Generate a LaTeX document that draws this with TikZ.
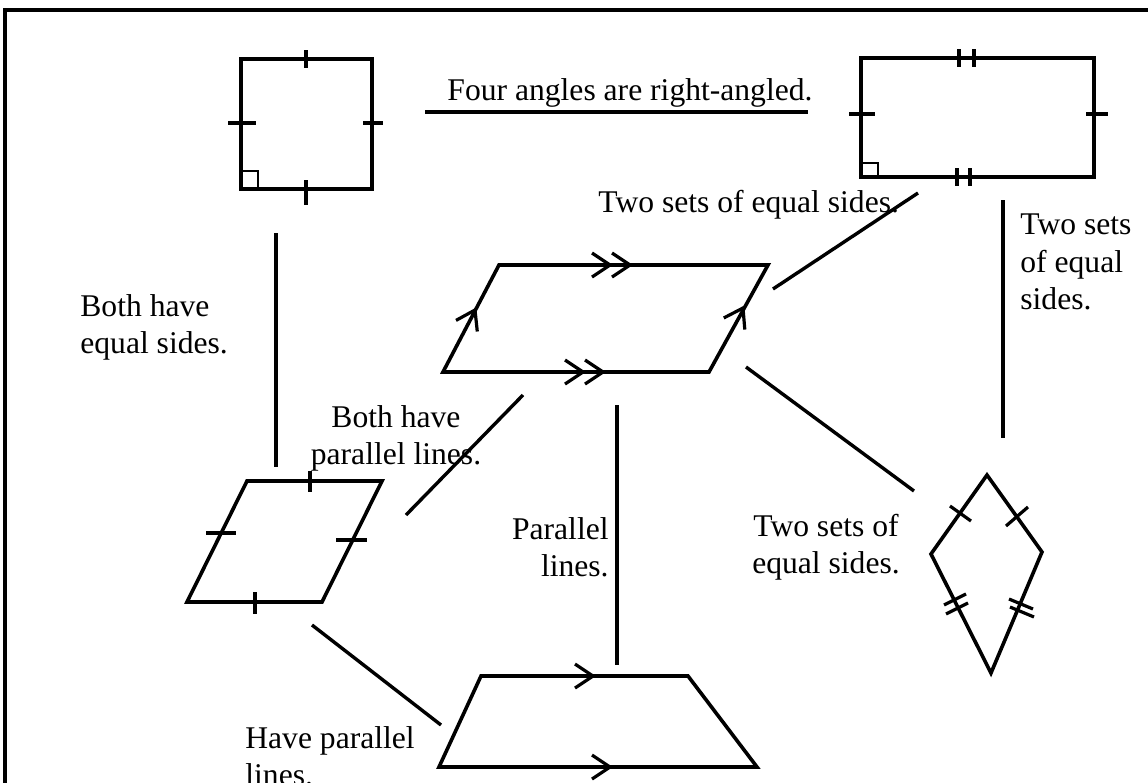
\documentclass[tikz,border=0pt]{standalone}
\usepackage{fontspec}
\setmainfont{Liberation Serif}
\usetikzlibrary{calc}
\begin{document}
\begin{tikzpicture}[x=0.5pt,y=-0.5pt,
  fig/.style={draw,line width=1.8pt},
  link/.style={draw,line width=1.7pt},
  mark2/.style={draw,line width=1.6pt},
  lbl/.style={inner sep=0pt,font=\fontsize{15.8pt}{18.6pt}\selectfont},
  chev/.pic={\draw[line width=1.6pt] (-18,12)--(0,0)--(-18,-12);}]
\useasboundingbox (0,0) rectangle (1148,783);
% frame
\draw[line width=1.6pt] (5,783) -- (5,10) -- (1148,10);

% ---------- square ----------
\coordinate (sqA) at (241,59); \coordinate (sqB) at (372,59);
\coordinate (sqC) at (372,189); \coordinate (sqD) at (241,189);
\draw[fig] (sqA) -- (sqB) -- (sqC) -- (sqD) -- cycle;
\draw[mark2] (306,50) -- (306,68);
\draw[mark2] (306,180) -- (306,205);
\draw[mark2] (228,123) -- (256,123);
\draw[mark2] (363,123) -- (383,123);
\draw[line width=1.4pt] (241,171) -- (258,171) -- (258,189);

% ---------- rectangle ----------
\coordinate (reA) at (861,58); \coordinate (reB) at (1094,58);
\coordinate (reC) at (1094,177); \coordinate (reD) at (861,177);
\draw[fig] (reA) -- (reB) -- (reC) -- (reD) -- cycle;
\draw[mark2] (959,49) -- (959,67) (974,49) -- (974,67);
\draw[mark2] (957,168) -- (957,186) (970,168) -- (970,186);
\draw[mark2] (849,114) -- (875,114);
\draw[mark2] (1086,114) -- (1108,114);
\draw[line width=1.4pt] (861,163) -- (878,163) -- (878,177);

% ---------- parallelogram (centre) ----------
\coordinate (paA) at (499,265); \coordinate (paB) at (768,265);
\coordinate (paC) at (709,372); \coordinate (paD) at (443,372);
\draw[fig] (paA) -- (paB) -- (paC) -- (paD) -- cycle;
\pic at (610,265) {chev}; \pic at (630,265) {chev};
\pic at (583,372) {chev}; \pic at (603,372) {chev};
\pic[rotate=62.4] at (475,310) {chev};
\pic[rotate=61.1] at (743,308) {chev};

% ---------- rhombus ----------
\coordinate (rhA) at (247,481); \coordinate (rhB) at (382,481);
\coordinate (rhC) at (322,602); \coordinate (rhD) at (187,602);
\draw[fig] (rhA) -- (rhB) -- (rhC) -- (rhD) -- cycle;
\draw[mark2] (310,471) -- (310,492);
\draw[mark2] (255,592) -- (255,614);
\draw[mark2] (206,533) -- (236,533);
\draw[mark2] (336,540) -- (367,540);

% ---------- kite ----------
\coordinate (kiT) at (987,475); \coordinate (kiR) at (1042,552);
\coordinate (kiB) at (991,673); \coordinate (kiL) at (931,554);
\draw[fig] (kiT) -- (kiR) -- (kiB) -- (kiL) -- cycle;
\draw[mark2] (950,506) -- (971,521);
\draw[mark2] (1006,526) -- (1028,507);
\draw[mark2] (944,605) -- (966,594) (946,614) -- (968,603);
\draw[mark2] (1009,599) -- (1033,609) (1010,607) -- (1034,617);

% ---------- trapezium ----------
\coordinate (trA) at (481,676); \coordinate (trB) at (688,676);
\coordinate (trC) at (757,767); \coordinate (trD) at (439,767);
\draw[fig] (trA) -- (trB) -- (trC) -- (trD) -- cycle;
\pic at (593,676) {chev};
\pic at (610,767) {chev};

% ---------- connectors ----------
\coordinate (c1a) at (425,112); \coordinate (c1b) at (808,112);
\draw[link] (c1a) -- (c1b);
\coordinate (c2a) at (276,233); \coordinate (c2b) at (276,467);
\draw[link] (c2a) -- (c2b);
\coordinate (c3a) at (773,289); \coordinate (c3b) at (918,193);
\draw[link] (c3a) -- (c3b);
\coordinate (c4a) at (1003,200); \coordinate (c4b) at (1003,438);
\draw[link] (c4a) -- (c4b);
\coordinate (c5a) at (746,367); \coordinate (c5b) at (914,491);
\draw[link] (c5a) -- (c5b);
\coordinate (c6a) at (406,515); \coordinate (c6b) at (523,395);
\draw[link] (c6a) -- (c6b);
\coordinate (c7a) at (617,405); \coordinate (c7b) at (617,665);
\draw[link] (c7a) -- (c7b);
\coordinate (c8a) at (312,625); \coordinate (c8b) at (441,725);
\draw[link] (c8a) -- (c8b);

% ---------- labels ----------
\node[lbl] (t1) at (630,93) {Four angles are right-angled.};
\node[lbl,anchor=west] (t2) at (598,205) {Two sets of equal sides.};
\node[lbl,anchor=west,align=left] (t3) at (1020,262) {Two sets\\of equal\\sides.};
\node[lbl,anchor=west,align=left] (t4) at (80,327) {Both have\\equal sides.};
\node[lbl,align=center] (t5) at (396,438) {Both have\\parallel lines.};
\node[lbl,anchor=east,align=right] (t6) at (609,547) {Parallel\\lines.};
\node[lbl,align=center] (t7) at (826,547) {Two sets of\\equal sides.};
\node[lbl,anchor=west,align=left] (t8) at (245,756) {Have parallel\\lines.};
\end{tikzpicture}
\end{document}
